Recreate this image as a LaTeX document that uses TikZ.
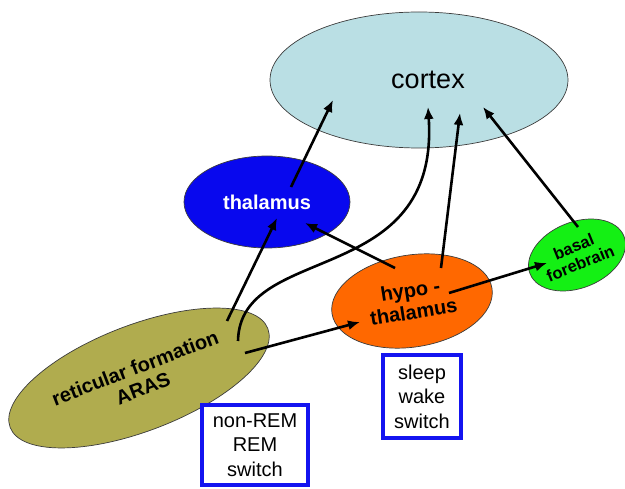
\documentclass[tikz,border=0pt]{standalone}
\usepackage{fontspec}
\setmainfont{Liberation Sans}
\usetikzlibrary{shapes.geometric,arrows.meta}

\definecolor{cortexfill}{RGB}{186,223,228}
\definecolor{thalfill}{RGB}{8,8,238}
\definecolor{hypofill}{RGB}{255,104,0}
\definecolor{basalfill}{RGB}{20,240,20}
\definecolor{retfill}{RGB}{176,172,78}
\definecolor{boxblue}{RGB}{20,20,240}
\definecolor{edgegray}{RGB}{60,60,60}

\tikzset{
  region/.style={ellipse, draw=edgegray, line width=0.7pt, inner sep=0pt, align=center},
  lbl/.style={font=\bfseries\fontsize{20}{22}\selectfont},
  conn/.style={line width=2.6pt, -{Latex[length=12pt,width=10pt]}},
  switchbox/.style={draw=boxblue, line width=4pt, fill=white, align=center,
    inner sep=0pt, font=\fontsize{20}{24.5}\selectfont},
}

\begin{document}
\begin{tikzpicture}[x=1pt,y=-1pt]
  \useasboundingbox (0,0) rectangle (625,489);

  % brain regions
  \node[region, fill=cortexfill, minimum width=298, minimum height=136,
        font=\fontsize{27}{30}\selectfont] (cortex) at (419,80)
        {\hspace{18pt}\raisebox{-5pt}{cortex}};
  \node[region, fill=thalfill, lbl, text=white, minimum width=166, minimum height=92]
        (thal) at (267,202) {thalamus};
  \node[region, fill=hypofill, lbl, rotate=9, minimum width=162, minimum height=92]
        (hypo) at (412,301) {hypo -\\thalamus};
  \node[region, fill=basalfill, rotate=22, minimum width=100, minimum height=66,
        font=\bfseries\fontsize{16.5}{18}\selectfont]
        (basal) at (577,255) {basal\\forebrain};
  \node[region, fill=retfill, lbl, rotate=21, minimum width=276, minimum height=106]
        (ret) at (139,378) {reticular formation\\ARAS};

  % switch boxes
  \node[switchbox, minimum width=106, minimum height=80] (nrem) at (255,445)
        {non-REM\\REM\\switch};
  \node[switchbox, minimum width=78, minimum height=83] (sleep) at (422,396.5)
        {sleep\\wake\\switch};

  % projections
  \draw[conn] ([shift={(24,-15)}]thal.center) -- ([shift={(-86,20)}]cortex.center);
  \draw[conn] ([shift={(88,-57)}]ret.center) -- ([shift={(10,16)}]thal.center);
  \draw[conn] ([shift={(99,-37)}]ret.center)
        .. controls +(2,-100) and +(12,183) .. ([shift={(9,27)}]cortex.center);
  \draw[conn] ([shift={(29,-33)}]hypo.center) -- ([shift={(41,33)}]cortex.center);
  \draw[conn] ([shift={(1,-28)}]basal.center) -- ([shift={(64,27)}]cortex.center);
  \draw[conn] ([shift={(-17,-33)}]hypo.center) -- ([shift={(38,21)}]thal.center);
  \draw[conn] ([shift={(37,-8)}]hypo.center) -- ([shift={(-30,8)}]basal.center);
  \draw[conn] ([shift={(106,-25)}]ret.center) -- ([shift={(-52,21)}]hypo.center);
\end{tikzpicture}
\end{document}
